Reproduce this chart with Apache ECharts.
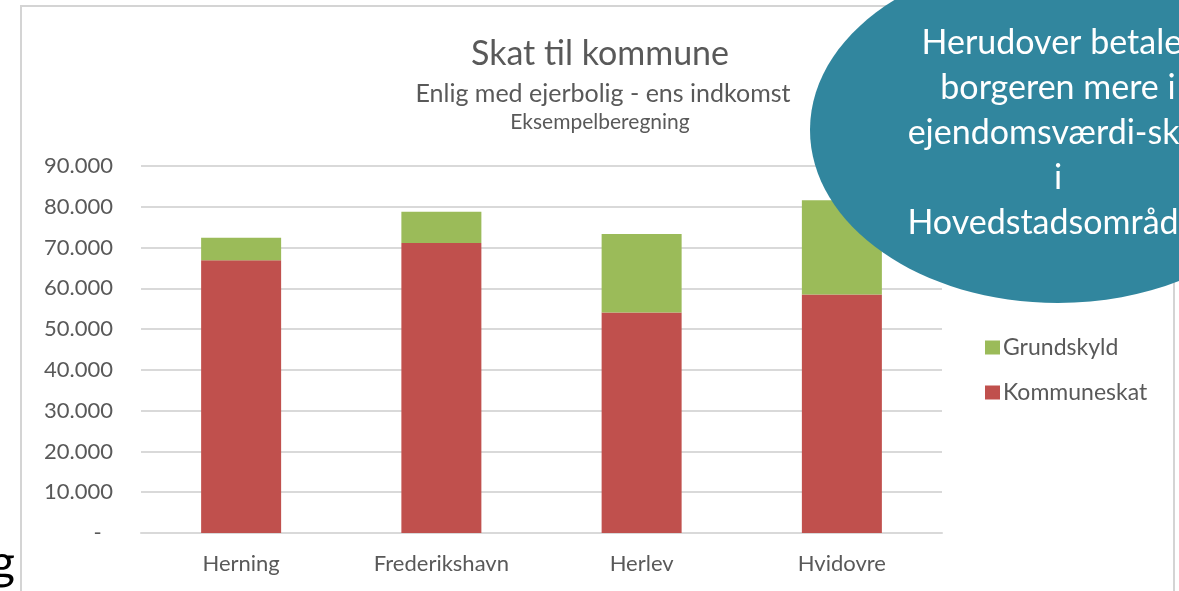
<!DOCTYPE html>
<html>
<head>
<meta charset="utf-8">
<script src="https://cdn.jsdelivr.net/npm/echarts@6/dist/echarts.min.js"></script>
<style>
  html, body { margin: 0; padding: 0; background: #fff; }
  #main { width: 1179px; height: 591px; }
</style>
</head>
<body>
<div id="main"></div>
<script>
// data
var kommuner = ['Herning', 'Frederikshavn', 'Herlev', 'Hvidovre'];
var kommuneskat = [66900, 71100, 54100, 58500];
var grundskyld = [5500, 7700, 19200, 23100];
var yTicks = [0, 10000, 20000, 30000, 40000, 50000, 60000, 70000, 80000, 90000];
var bobleTekst = ['Herudover betaler', 'borgeren mere i', 'ejendomsværdi-skat', 'i', 'Hovedstadsområdet'];

var fontFam = 'Lato, "Noto Sans", sans-serif';
var grey = '#595959';

function fmt(v) {
    if (v === 0) return '-  ';
    return String(v).replace(/\B(?=(\d{3})+(?!\d))/g, '.');
}

var myChart = echarts.init(document.getElementById('main'));

var option = {
    backgroundColor: '#fff',
    animation: false,
    textStyle: { fontFamily: fontFam },
    title: [{
        text: 'Skat til kommune',
        left: 595, top: 32, textAlign: 'center',
        textStyle: { fontSize: 34, fontWeight: 'normal', color: grey, fontFamily: fontFam }
    }, {
        text: 'Enlig med ejerbolig - ens indkomst',
        left: 598, top: 76, textAlign: 'center',
        textStyle: { fontSize: 25, fontWeight: 'normal', color: grey, fontFamily: fontFam }
    }, {
        text: 'Eksempelberegning',
        left: 595, top: 107, textAlign: 'center',
        textStyle: { fontSize: 21, fontWeight: 'normal', color: grey, fontFamily: fontFam }
    }],
    legend: {
        orient: 'vertical',
        left: 980,
        top: 331,
        itemWidth: 15,
        itemHeight: 14,
        itemGap: 22,
        icon: 'rect',
        data: ['Grundskyld', 'Kommuneskat'],
        textStyle: { fontSize: 23, color: grey, fontFamily: fontFam, padding: [0, 0, 0, -2] }
    },
    grid: {
        left: 141,
        right: 237,
        top: 166,
        bottom: 58,
        containLabel: false
    },
    xAxis: {
        type: 'category',
        data: kommuner,
        axisLine: { show: true, lineStyle: { color: '#d9d9d9', width: 2 } },
        axisTick: { show: false },
        axisLabel: { color: grey, fontSize: 22, margin: 20, fontFamily: fontFam }
    },
    yAxis: {
        type: 'value',
        min: yTicks[0],
        max: yTicks[yTicks.length - 1],
        interval: 10000,
        axisLine: { show: false },
        axisTick: { show: false },
        splitLine: { lineStyle: { color: '#d9d9d9', width: 2 } },
        axisLabel: { color: grey, fontSize: 22, margin: 28, fontFamily: fontFam, formatter: fmt }
    },
    series: [{
        name: 'Kommuneskat',
        type: 'bar',
        stack: 'skat',
        barWidth: 80,
        data: kommuneskat,
        itemStyle: { color: '#c0504d' }
    }, {
        name: 'Grundskyld',
        type: 'bar',
        stack: 'skat',
        barWidth: 80,
        data: grundskyld,
        itemStyle: { color: '#9bbb59' }
    }],
    graphic: [{
        type: 'rect',
        z: 0,
        silent: true,
        shape: { x: 21, y: 6, width: 1153, height: 600 },
        style: { fill: null, stroke: '#d4d4d4', lineWidth: 2 }
    }, {
        type: 'text',
        z: 10,
        silent: true,
        x: -10, y: 540,
        style: { text: 'g', fontSize: 48, fill: '#000', fontFamily: fontFam }
    }, {
        type: 'ellipse',
        z: 100,
        silent: true,
        shape: { cx: 1058, cy: 130, rx: 248, ry: 173 },
        style: { fill: '#31869e' }
    }, {
        type: 'text',
        z: 101,
        silent: true,
        x: 1058, y: 133,
        style: {
            text: bobleTekst.join('\n'),
            fontSize: 34,
            lineHeight: 45,
            fill: '#fff',
            align: 'center',
            verticalAlign: 'middle',
            fontFamily: fontFam
        }
    }]
};

myChart.setOption(option);
window.onresize = function () {
    myChart.resize();
};
</script>
</body>
</html>
